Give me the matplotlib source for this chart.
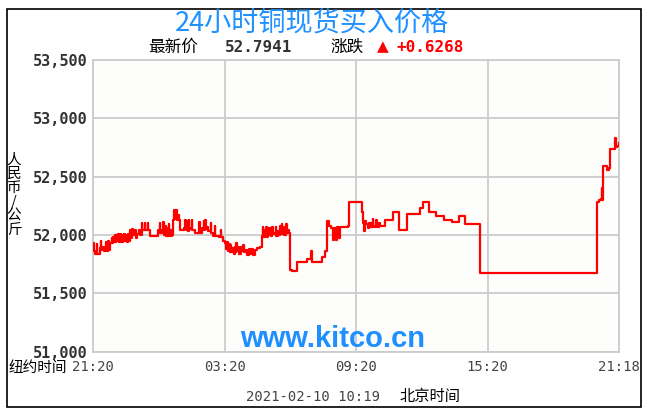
import matplotlib
matplotlib.use("Agg")
import matplotlib.pyplot as plt
from matplotlib.patches import Rectangle

# minutes since 21:20 (New York time) and price (step data)
minutes = [
    0, 3, 5, 9, 10, 18, 20, 21, 25, 28, 32, 36, 37, 41, 42, 46, 50, 51, 55, 56,
    59, 61, 63, 65, 67, 69, 71, 73, 75, 77, 80, 82, 85, 87, 90, 92, 95, 97, 100, 104,
    106, 110, 114, 117, 119, 124, 128, 132, 133, 140, 141, 142, 150, 151, 155, 178, 182, 183, 188, 192,
    193, 196, 198, 201, 203, 206, 208, 211, 213, 215, 219, 221, 223, 226, 228, 232, 235, 237, 248, 252,
    253, 258, 259, 262, 263, 268, 270, 271, 279, 290, 291, 297, 302, 303, 307, 308, 312, 315, 322, 323,
    329, 333, 334, 343, 349, 350, 356, 360, 363, 366, 368, 371, 373, 376, 378, 381, 384, 387, 389, 392,
    394, 397, 400, 404, 407, 410, 412, 416, 420, 426, 429, 433, 437, 442, 447, 456, 461, 464, 466, 469,
    471, 474, 476, 479, 481, 484, 486, 489, 491, 495, 499, 501, 505, 508, 511, 513, 516, 518, 521, 523,
    527, 529, 532, 536, 539, 545, 557, 584, 594, 597, 599, 625, 634, 639, 646, 650, 656, 658, 665, 667,
    674, 676, 698, 701, 735, 739, 741, 743, 747, 752, 756, 760, 765, 767, 771, 775, 777, 781, 785, 799,
    820, 838, 858, 895, 902, 918, 938, 959, 981, 1000, 1018, 1059, 1379, 1384, 1390, 1392, 1393, 1395, 1406, 1413,
    1415, 1428, 1430, 1434, 1438,
]
prices = [
    51.93, 51.86, 51.84, 51.92, 51.84, 51.89, 51.95, 51.87, 51.90, 51.86, 51.86, 51.94, 51.86, 51.95, 51.87, 51.93, 51.97, 51.93, 51.98, 51.94,
    52.00, 51.94, 52.00, 51.95, 52.01, 51.94, 52.00, 51.95, 52.01, 51.94, 52.00, 51.95, 52.01, 51.95, 52.00, 51.94, 52.01, 51.95, 52.04, 51.97,
    52.05, 52.00, 52.04, 51.97, 52.01, 52.04, 52.00, 52.10, 52.04, 52.04, 52.10, 52.04, 52.10, 52.04, 51.99, 52.04, 52.10, 52.02, 52.04, 52.11,
    52.00, 52.08, 51.99, 52.06, 51.99, 52.09, 51.99, 52.04, 51.99, 52.00, 52.13, 52.21, 52.14, 52.21, 52.13, 52.17, 52.13, 52.04, 52.06, 52.13,
    52.04, 52.12, 52.03, 52.13, 52.05, 52.06, 52.13, 52.04, 52.02, 52.11, 52.02, 52.06, 52.12, 52.04, 52.13, 52.05, 52.07, 52.03, 52.10, 52.02,
    51.99, 52.08, 51.99, 51.98, 52.04, 51.98, 51.95, 51.93, 51.88, 51.94, 51.86, 51.92, 51.85, 51.91, 51.85, 51.89, 51.84, 51.90, 51.85, 51.93,
    51.86, 51.90, 51.84, 51.90, 51.86, 51.91, 51.85, 51.87, 51.83, 51.88, 51.84, 51.88, 51.83, 51.87, 51.89, 51.90, 51.99, 52.07, 51.98, 52.04,
    51.99, 52.07, 51.98, 52.06, 52.00, 52.06, 51.99, 52.07, 52.01, 52.02, 52.07, 51.99, 52.03, 52.00, 52.08, 52.01, 52.09, 52.01, 52.07, 52.00,
    52.09, 52.02, 52.04, 52.02, 51.70, 51.69, 51.77, 51.79, 51.79, 51.86, 51.77, 51.81, 51.86, 52.12, 52.08, 52.06, 51.96, 52.06, 51.96, 52.07,
    51.97, 52.07, 52.08, 52.28, 52.20, 52.10, 52.03, 52.12, 52.09, 52.06, 52.10, 52.07, 52.14, 52.08, 52.07, 52.13, 52.07, 52.10, 52.08, 52.13,
    52.20, 52.04, 52.18, 52.23, 52.28, 52.20, 52.16, 52.13, 52.11, 52.16, 52.09, 51.67, 52.28, 52.30, 52.31, 52.40, 52.30, 52.59, 52.56, 52.57,
    52.74, 52.83, 52.75, 52.76, 52.79,
]

x_ticks = [0, 360, 720, 1080, 1438]
x_labels = ["21:20", "03:20", "09:20", "15:20", "21:18"]
y_ticks = [51.0, 51.5, 52.0, 52.5, 53.0, 53.5]
y_labels = ["51,000", "51,500", "52,000", "52,500", "53,000", "53,500"]

cjk = ["Noto Sans CJK SC", "DejaVu Sans"]
mono = "DejaVu Sans Mono"
W, H = 648, 420


def fx(px):
    return px / W


def fy(py):
    return 1 - py / H


fig = plt.figure(figsize=(6.48, 4.2), dpi=100)
fig.patch.set_facecolor("white")
ax = fig.add_axes([fx(93.3), fy(351.6), fx(618.5) - fx(93.3), fy(60) - fy(351.6)])
ax.set_facecolor("#fdfdfb")

ax.step(minutes, prices, where="post", color="#ff0000", lw=1.6, zorder=3)

ax.set_xlim(0, 1438)
ax.set_ylim(51.0, 53.5)
ax.set_xticks(x_ticks)
ax.set_xticklabels(x_labels, fontfamily=mono, fontsize=10, color="#444444")
ax.set_yticks(y_ticks)
ax.set_yticklabels(y_labels, fontfamily=mono, fontsize=11, fontweight="bold", color="#333333")
ax.tick_params(length=0)
ax.tick_params(axis="y", pad=4)
ax.tick_params(axis="x", pad=6)
ax.grid(True, color="#cccccc", lw=1.3, zorder=1)
for s in ax.spines.values():
    s.set_color("#cccccc")
    s.set_linewidth(1.3)

# header
fig.text(fx(312), fy(23), "24小时铜现货买入价格", family=cjk, fontsize=19.5,
         color="#1e90ff", ha="center", va="center")
fig.text(fx(148), fy(47), "最新价", family=cjk, fontsize=12, color="black", va="center")
fig.text(fx(225), fy(47), "52.7941", family=mono, fontsize=11.5, fontweight="bold",
         color="#333333", va="center")
fig.text(fx(330), fy(47), "涨跌", family=cjk, fontsize=12, color="black", va="center")
fig.text(fx(377), fy(47), "▲", family="DejaVu Sans", fontsize=11, color="#ff0000", va="center")
fig.text(fx(396), fy(47), "+0.6268", family=mono, fontsize=11.5, fontweight="bold",
         color="#ff0000", va="center")

# axis labels
fig.text(fx(14), fy(195), "\n".join("人民币/公斤"), family=cjk, fontsize=10.5,
         ha="center", va="center", linespacing=1.0)
fig.text(fx(9), fy(368), "纽约时间", family=cjk, fontsize=10.5, va="center")
fig.text(fx(246), fy(397), "2021-02-10 10:19", family=mono, fontsize=10,
         color="#444444", va="center")
fig.text(fx(400), fy(397), "北京时间", family=cjk, fontsize=11, va="center")

# watermark
fig.text(fx(333), fy(339), "www.kitco.cn", family="Liberation Sans", fontsize=21,
         fontweight="bold", color="#1e8fff", ha="center", va="center", zorder=5)

fig.patches.append(Rectangle((fx(7), fy(407)), fx(641) - fx(7), fy(9) - fy(407),
                             transform=fig.transFigure, fill=False, ec="black", lw=1.2))

fig.savefig("out.png", dpi=100)
